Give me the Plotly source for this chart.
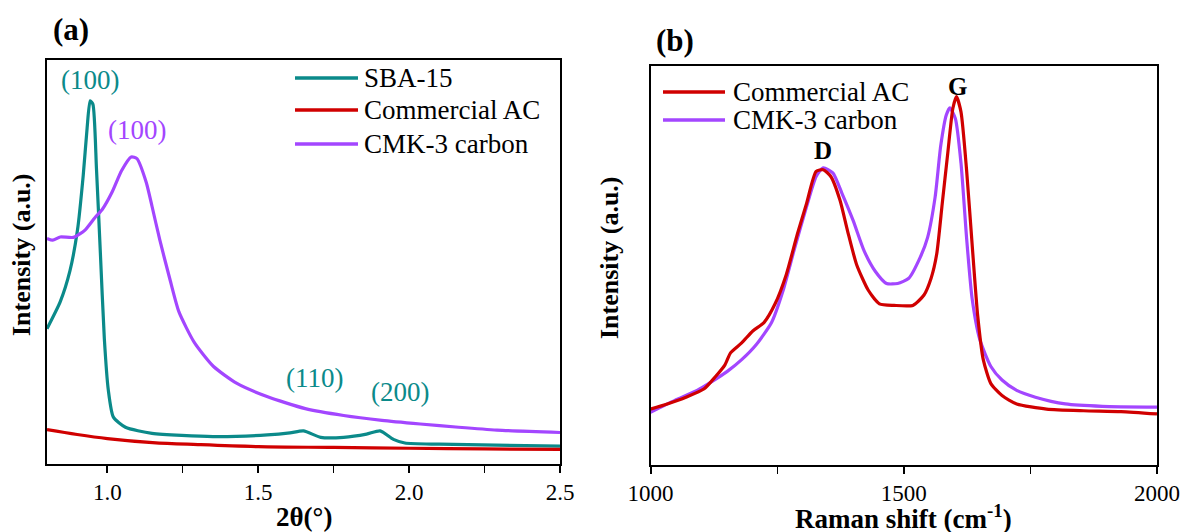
import plotly.graph_objects as go

# ---------------- Panel (a): small-angle XRD ----------------
xrd_sba_x = [0.80, 0.844, 0.876, 0.901, 0.920, 0.933, 0.943, 0.952, 0.964, 0.977, 0.990, 1.003,
             1.020, 1.060, 1.148, 1.350, 1.530, 1.605, 1.650, 1.707, 1.783, 1.859, 1.904, 1.948,
             1.986, 2.100, 2.500]
xrd_sba_y = [33.5, 40.2, 47.8, 57.9, 71.4, 83.2, 89.9, 89.1, 73.0, 52.0, 31.0, 18.4,
             11.6, 9.1, 7.6, 6.8, 7.2, 7.7, 8.2, 6.6, 6.6, 7.4, 8.2, 6.1,
             5.2, 4.9, 4.4]

xrd_ac_x = [0.80, 0.90, 1.00, 1.15, 1.30, 1.50, 1.75, 2.00, 2.25, 2.50]
xrd_ac_y = [8.5, 7.3, 6.3, 5.3, 4.8, 4.3, 4.1, 3.9, 3.75, 3.6]

xrd_cmk_x = [0.80, 0.819, 0.844, 0.888, 0.926, 0.958, 0.983, 1.015, 1.047, 1.079, 1.098, 1.129,
             1.148, 1.174, 1.206, 1.237, 1.288, 1.351, 1.428, 1.529, 1.656, 1.783, 1.910,
             2.037, 2.164, 2.291, 2.500]
xrd_cmk_y = [55.8, 55.4, 56.2, 56.1, 57.9, 60.9, 63.0, 67.2, 72.6, 76.0, 75.6, 69.7,
             63.8, 55.4, 46.1, 37.7, 30.1, 24.2, 20.0, 16.7, 13.7, 12.0, 10.8,
             9.9, 9.1, 8.4, 7.8]

xrd_labels = ["(100)", "(100)", "(110)", "(200)"]
xrd_label_x = [0.942, 1.098, 1.685, 1.970]
xrd_label_y = [95.0, 82.7, 21.3, 17.9]
xrd_label_series = ["SBA-15", "CMK-3 carbon", "SBA-15", "SBA-15"]

# ---------------- Panel (b): Raman ----------------
raman_ac_x = [1000, 1033, 1070, 1106, 1128, 1147, 1158, 1180, 1202, 1224, 1246, 1268, 1290,
              1308, 1327, 1341, 1356, 1374, 1389, 1407, 1430, 1452, 1481, 1518, 1540, 1554,
              1565, 1576, 1587, 1597, 1604, 1613, 1624, 1635, 1646, 1657, 1672, 1694, 1723,
              1782, 1855, 1929, 2000]
raman_ac_y = [14.0, 15.3, 17.0, 19.1, 22.1, 25.1, 28.1, 30.6, 33.6, 35.7, 40.4, 47.7, 57.9,
              65.5, 73.6, 74.0, 72.3, 66.4, 58.7, 50.2, 43.8, 40.4, 40.0, 40.0, 42.6, 46.8,
              52.8, 65.5, 78.3, 89.4, 92.3, 88.5, 74.0, 55.3, 37.4, 26.4, 20.4, 17.4, 15.3,
              14.0, 13.6, 13.4, 12.8]

raman_cmk_x = [1000, 1048, 1092, 1121, 1151, 1180, 1209, 1239, 1261, 1283, 1308, 1327, 1341,
               1360, 1378, 1400, 1422, 1444, 1466, 1488, 1510, 1532, 1547, 1562, 1573, 1584,
               1591, 1602, 1613, 1624, 1635, 1650, 1672, 1694, 1723, 1760, 1819, 1892, 2000]
raman_cmk_y = [13.2, 16.2, 18.7, 20.9, 23.4, 26.4, 30.2, 35.7, 43.4, 53.6, 64.7, 72.3, 74.5,
               73.2, 68.1, 61.3, 53.6, 48.5, 45.5, 45.5, 46.8, 51.9, 57.0, 67.2, 80.0, 87.7,
               89.5, 86.8, 75.7, 57.0, 41.7, 31.5, 24.7, 21.3, 18.7, 17.0, 15.3, 14.7, 14.5]

raman_labels = ["D", "G"]
raman_label_x = [1340, 1606]
raman_label_y = [78.7, 94.9]

xrd_ticks = [1.0, 1.5, 2.0, 2.5]
raman_ticks = [1000, 1500, 2000]

COLORS = {"SBA-15": "#0b8a8a", "Commercial AC": "#d00000", "CMK-3 carbon": "#a346ff"}
FONT = "Liberation Serif, Times New Roman, serif"
W, H = 1184, 532

# panel pixel boxes (left, right, top, bottom)
A_BOX = (47, 560, 60, 464)
B_BOX = (650.5, 1157, 66, 465)


def dom_x(box):
    return [box[0] / W, box[1] / W]


def dom_y(box):
    return [(H - box[3]) / H, (H - box[2]) / H]


fig = go.Figure()

fig.add_trace(go.Scatter(x=xrd_sba_x, y=xrd_sba_y, mode="lines", name="SBA-15",
                         line=dict(color=COLORS["SBA-15"], width=3.2, shape="spline", smoothing=0.6),
                         xaxis="x", yaxis="y", showlegend=False))
fig.add_trace(go.Scatter(x=xrd_ac_x, y=xrd_ac_y, mode="lines", name="Commercial AC",
                         line=dict(color=COLORS["Commercial AC"], width=3.2, shape="spline"),
                         xaxis="x", yaxis="y", showlegend=False))
fig.add_trace(go.Scatter(x=xrd_cmk_x, y=xrd_cmk_y, mode="lines", name="CMK-3 carbon",
                         line=dict(color=COLORS["CMK-3 carbon"], width=3.2, shape="spline", smoothing=0.6),
                         xaxis="x", yaxis="y", showlegend=False))

fig.add_trace(go.Scatter(x=raman_cmk_x, y=raman_cmk_y, mode="lines", name="CMK-3 carbon",
                         line=dict(color=COLORS["CMK-3 carbon"], width=3.2, shape="spline", smoothing=0.6),
                         xaxis="x2", yaxis="y2", showlegend=False))
fig.add_trace(go.Scatter(x=raman_ac_x, y=raman_ac_y, mode="lines", name="Commercial AC",
                         line=dict(color=COLORS["Commercial AC"], width=3.2, shape="spline", smoothing=0.6),
                         xaxis="x2", yaxis="y2", showlegend=False))

axis_common = dict(showline=True, linecolor="black", linewidth=1.5, mirror=True,
                   showgrid=False, zeroline=False, automargin=False)

fig.update_layout(
    width=W, height=H,
    margin=dict(l=0, r=0, t=0, b=0),
    paper_bgcolor="white", plot_bgcolor="white",
    font=dict(family=FONT, color="black"),
    xaxis=dict(domain=dom_x(A_BOX), anchor="y", range=[0.8, 2.5],
               tickmode="array", tickvals=xrd_ticks, ticktext=["1.0", "1.5", "2.0", "2.5"],
               ticks="outside", ticklen=7, tickwidth=1.5, tickcolor="black",
               minor=dict(dtick=0.25, tick0=0, ticks="outside", ticklen=7, tickwidth=1.2,
                          tickcolor="black", showgrid=False),
               tickfont=dict(size=23, family=FONT),
               **axis_common),
    yaxis=dict(domain=dom_y(A_BOX), anchor="x", range=[0, 100],
               showticklabels=False, ticks="",
               **axis_common),
    xaxis2=dict(domain=dom_x(B_BOX), anchor="y2", range=[1000, 2000],
                tickmode="array", tickvals=raman_ticks,
                ticks="outside", ticklen=7, tickwidth=1.5, tickcolor="black",
                minor=dict(dtick=250, tick0=0, ticks="outside", ticklen=7, tickwidth=1.2,
                           tickcolor="black", showgrid=False),
                tickfont=dict(size=23, family=FONT),
                **axis_common),
    yaxis2=dict(domain=dom_y(B_BOX), anchor="x2", range=[0, 100],
                showticklabels=False, ticks="",
                **axis_common),
)

annotations = []
# axis titles
annotations.append(dict(x=(A_BOX[0] + A_BOX[1]) / 2 / W, y=1 - 517 / H, xref="paper", yref="paper",
                        text="<b>2θ(°)</b>", showarrow=False, font=dict(size=27, family=FONT),
                        xanchor="center", yanchor="middle"))
annotations.append(dict(x=(B_BOX[0] + B_BOX[1]) / 2 / W, y=1 - 517 / H, xref="paper", yref="paper",
                        text="<b>Raman shift (cm<sup>-1</sup>)</b>", showarrow=False,
                        font=dict(size=27, family=FONT), xanchor="center", yanchor="middle"))
annotations.append(dict(x=21 / W, y=1 - 255 / H, xref="paper", yref="paper",
                        text="<b>Intensity (a.u.)</b>", showarrow=False, textangle=-90,
                        font=dict(size=26, family=FONT), xanchor="center", yanchor="middle"))
annotations.append(dict(x=609 / W, y=1 - 258 / H, xref="paper", yref="paper",
                        text="<b>Intensity (a.u.)</b>", showarrow=False, textangle=-90,
                        font=dict(size=26, family=FONT), xanchor="center", yanchor="middle"))
# peak labels, panel (a)
for txt, x, y, s in zip(xrd_labels, xrd_label_x, xrd_label_y, xrd_label_series):
    annotations.append(dict(x=x, y=y, xref="x", yref="y", text=txt, showarrow=False,
                            font=dict(size=27, family=FONT, color=COLORS[s]),
                            xanchor="center", yanchor="middle"))
# peak labels, panel (b)
for txt, x, y in zip(raman_labels, raman_label_x, raman_label_y):
    annotations.append(dict(x=x, y=y, xref="x2", yref="y2", text="<b>" + txt + "</b>",
                            showarrow=False, font=dict(size=25, family=FONT, color="black"),
                            xanchor="center", yanchor="middle"))
# panel letters
annotations.append(dict(x=71 / W, y=1 - 29 / H, xref="paper", yref="paper", text="<b>(a)</b>",
                        showarrow=False, font=dict(size=31, family=FONT), xanchor="center",
                        yanchor="middle"))
annotations.append(dict(x=675 / W, y=1 - 41 / H, xref="paper", yref="paper", text="<b>(b)</b>",
                        showarrow=False, font=dict(size=31, family=FONT), xanchor="center",
                        yanchor="middle"))

shapes = []
# hand-drawn legends (long line samples like the original)
legend_a = ["SBA-15", "Commercial AC", "CMK-3 carbon"]
legend_a_rows = [78, 110, 144]
for name, py in zip(legend_a, legend_a_rows):
    yd = (A_BOX[3] - py) / (A_BOX[3] - A_BOX[2])
    x0 = (295 - A_BOX[0]) / (A_BOX[1] - A_BOX[0])
    x1 = (358 - A_BOX[0]) / (A_BOX[1] - A_BOX[0])
    xt = (362 - A_BOX[0]) / (A_BOX[1] - A_BOX[0])
    shapes.append(dict(type="line", xref="x domain", yref="y domain", x0=x0, x1=x1, y0=yd, y1=yd,
                       line=dict(color=COLORS[name], width=3.5)))
    annotations.append(dict(x=xt, y=yd, xref="x domain", yref="y domain", text=name,
                            showarrow=False, font=dict(size=27, family=FONT, color="black"),
                            xanchor="left", yanchor="middle"))

legend_b = ["Commercial AC", "CMK-3 carbon"]
legend_b_rows = [92, 120]
for name, py in zip(legend_b, legend_b_rows):
    yd = (B_BOX[3] - py) / (B_BOX[3] - B_BOX[2])
    x0 = (663 - B_BOX[0]) / (B_BOX[1] - B_BOX[0])
    x1 = (725 - B_BOX[0]) / (B_BOX[1] - B_BOX[0])
    xt = (731 - B_BOX[0]) / (B_BOX[1] - B_BOX[0])
    shapes.append(dict(type="line", xref="x2 domain", yref="y2 domain", x0=x0, x1=x1, y0=yd, y1=yd,
                       line=dict(color=COLORS[name], width=3.5)))
    annotations.append(dict(x=xt, y=yd, xref="x2 domain", yref="y2 domain", text=name,
                            showarrow=False, font=dict(size=27, family=FONT, color="black"),
                            xanchor="left", yanchor="middle"))

fig.update_layout(annotations=annotations, shapes=shapes)

fig.write_html("out.html", config={"displayModeBar": False},
               post_script="document.body.style.margin='0';document.body.style.overflow='hidden';")
